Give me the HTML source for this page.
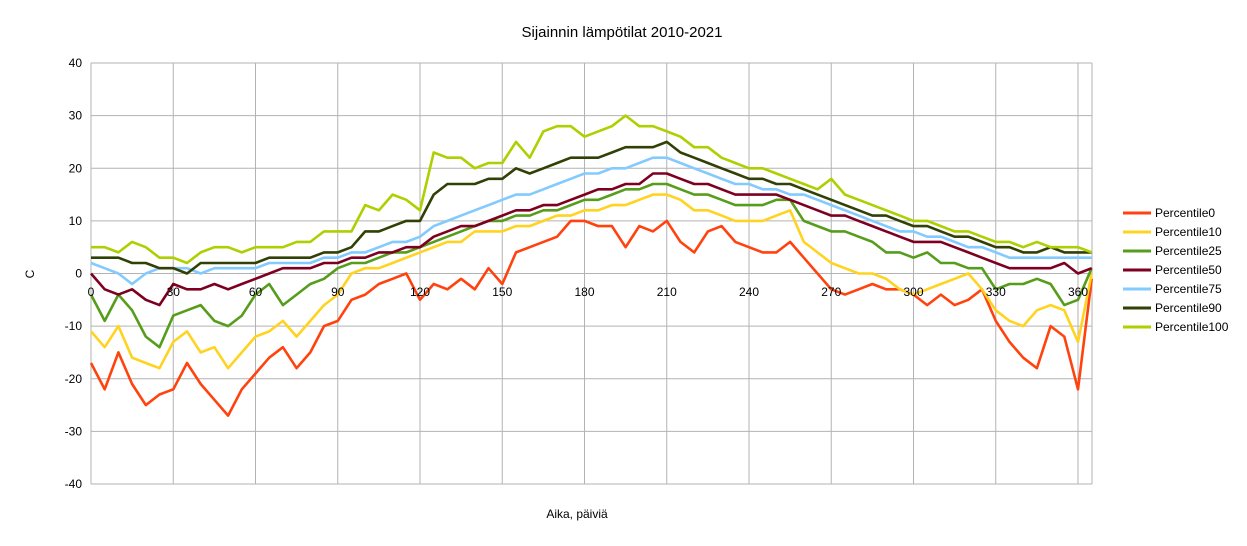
<!DOCTYPE html>
<html><head><meta charset="utf-8"><style>
body{margin:0;background:#fff;width:1247px;height:541px;overflow:hidden;font-family:"Liberation Sans",sans-serif}
</style></head><body>
<svg id="chart" width="1247" height="541" xmlns="http://www.w3.org/2000/svg" font-family="Liberation Sans, sans-serif">
<text x="622" y="37" font-size="15" text-anchor="middle">Sijainnin lämpötilat 2010-2021</text>
<text transform="translate(34,274) rotate(-90)" font-size="12" text-anchor="middle">C</text>
<text x="577" y="518" font-size="12" text-anchor="middle">Aika, päiviä</text>
<g id="grid"></g><g id="series"></g><g id="labels"></g><g id="legend"></g>
</svg>
<script>
const days=[0,5,10,15,20,25,30,35,40,45,50,55,60,65,70,75,80,85,90,95,100,105,110,115,120,125,130,135,140,145,150,155,160,165,170,175,180,185,190,195,200,205,210,215,220,225,230,235,240,245,250,255,260,265,270,275,280,285,290,295,300,305,310,315,320,325,330,335,340,345,350,355,360,365];
const p0=[-17,-22,-15,-21,-25,-23,-22,-17,-21,-24,-27,-22,-19,-16,-14,-18,-15,-10,-9,-5,-4,-2,-1,0,-5,-2,-3,-1,-3,1,-2,4,5,6,7,10,10,9,9,5,9,8,10,6,4,8,9,6,5,4,4,6,3,0,-3,-4,-3,-2,-3,-3,-4,-6,-4,-6,-5,-3,-9,-13,-16,-18,-10,-12,-22,-1];
const p10=[-11,-14,-10,-16,-17,-18,-13,-11,-15,-14,-18,-15,-12,-11,-9,-12,-9,-6,-4,0,1,1,2,3,4,5,6,6,8,8,8,9,9,10,11,11,12,12,13,13,14,15,15,14,12,12,11,10,10,10,11,12,6,4,2,1,0,0,-1,-3,-4,-3,-2,-1,0,-3,-7,-9,-10,-7,-6,-7,-13,0];
const p25=[-4,-9,-4,-7,-12,-14,-8,-7,-6,-9,-10,-8,-4,-2,-6,-4,-2,-1,1,2,2,3,4,4,5,6,7,8,9,10,10,11,11,12,12,13,14,14,15,16,16,17,17,16,15,15,14,13,13,13,14,14,10,9,8,8,7,6,4,4,3,4,2,2,1,1,-3,-2,-2,-1,-2,-6,-5,1];
const p50=[0,-3,-4,-3,-5,-6,-2,-3,-3,-2,-3,-2,-1,0,1,1,1,2,2,3,3,4,4,5,5,7,8,9,9,10,11,12,12,13,13,14,15,16,16,17,17,19,19,18,17,17,16,15,15,15,15,14,13,12,11,11,10,9,8,7,6,6,6,5,4,3,2,1,1,1,1,2,0,1];
const p75=[2,1,0,-2,0,1,1,1,0,1,1,1,1,2,2,2,2,3,3,4,4,5,6,6,7,9,10,11,12,13,14,15,15,16,17,18,19,19,20,20,21,22,22,21,20,19,18,17,17,16,16,15,15,14,13,12,11,10,9,8,8,7,7,6,5,5,4,3,3,3,3,3,3,3];
const p90=[3,3,3,2,2,1,1,0,2,2,2,2,2,3,3,3,3,4,4,5,8,8,9,10,10,15,17,17,17,18,18,20,19,20,21,22,22,22,23,24,24,24,25,23,22,21,20,19,18,18,17,17,16,15,14,13,12,11,11,10,9,9,8,7,7,6,5,5,4,4,5,4,4,4];
const p100=[5,5,4,6,5,3,3,2,4,5,5,4,5,5,5,6,6,8,8,8,13,12,15,14,12,23,22,22,20,21,21,25,22,27,28,28,26,27,28,30,28,28,27,26,24,24,22,21,20,20,19,18,17,16,18,15,14,13,12,11,10,10,9,8,8,7,6,6,5,6,5,5,5,4];
const seriesNames=["Percentile0","Percentile10","Percentile25","Percentile50","Percentile75","Percentile90","Percentile100"];
const seriesData=[p0,p10,p25,p50,p75,p90,p100];
const colors=["#ff420e","#ffd320","#579d1c","#7e0021","#83caff","#314004","#aecf00"];
const yTicks=[40,30,20,10,0,-10,-20,-30,-40];
const xTicks=[0,30,60,90,120,150,180,210,240,270,300,330,360];
const NS="http://www.w3.org/2000/svg";
const L=91,R=1092,T=63,B=484;
const xs=d=>L+d*(1078-91)/360;
const ys=v=>T+(40-v)*(B-T)/80;
function mk(tag,attrs,parent){const e=document.createElementNS(NS,tag);for(const k in attrs)e.setAttribute(k,attrs[k]);parent.appendChild(e);return e;}
const grid=document.getElementById('grid'),lab=document.getElementById('labels'),ser=document.getElementById('series'),leg=document.getElementById('legend');
yTicks.forEach(v=>{
 const g=mk('line',{x1:L,x2:R,y1:ys(v),y2:ys(v),stroke:'#b3b3b3','stroke-width':1},grid);
 
 
 const t=mk('text',{x:82,y:ys(v)+4,'font-size':12,'text-anchor':'end'},lab);t.textContent=v;
 
 
});
xTicks.forEach(d=>{
 const g=mk('line',{x1:xs(d),x2:xs(d),y1:T,y2:B,stroke:'#b3b3b3','stroke-width':1},grid);
 
 
});
mk('line',{x1:R,x2:R,y1:T,y2:B,stroke:'#b3b3b3'},grid);
seriesData.forEach((arr,i)=>{
 const pts=arr.map((v,j)=>xs(days[j]).toFixed(1)+','+ys(v).toFixed(1)).join(' ');
 const p=mk('polyline',{points:pts,fill:'none',stroke:colors[i],'stroke-width':2.6,'stroke-linejoin':'round'},ser);
 
 
 const y=213+i*19;
 const g=mk('g',{},leg);
 
 
 mk('line',{x1:1123,x2:1151,y1:y,y2:y,stroke:colors[i],'stroke-width':3},g);
 const t=mk('text',{x:1155,y:y+4,'font-size':12},g);t.textContent=seriesNames[i];
});
xTicks.forEach(d=>{
 const t=mk('text',{x:xs(d),y:296,'font-size':12,'text-anchor':'middle'},lab);t.textContent=d;
 
 
});
</script>
</body></html>
